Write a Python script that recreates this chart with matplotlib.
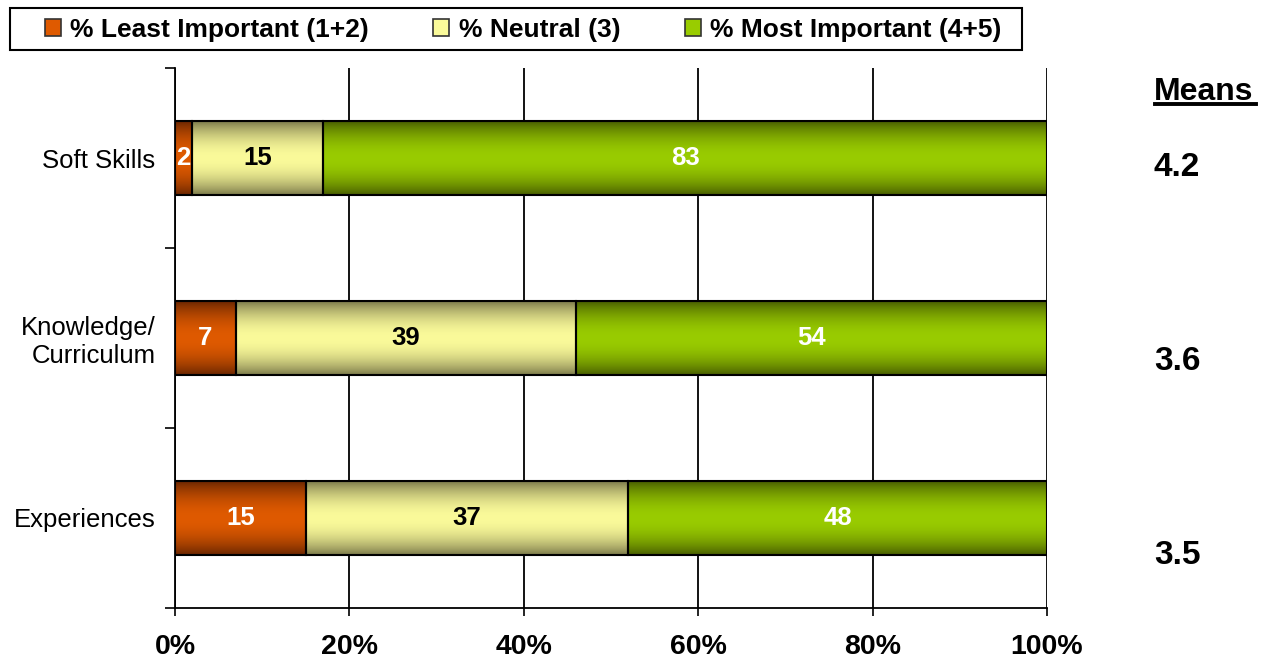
import numpy as np
import matplotlib
matplotlib.use("Agg")
import matplotlib.pyplot as plt
from matplotlib.patches import Patch, Rectangle
from matplotlib.lines import Line2D
from matplotlib.colors import to_rgb

plt.rcParams['font.family'] = ['Liberation Sans', 'DejaVu Sans']

# Survey results (percent of respondents)
categories = ["Experiences", "Knowledge/\nCurriculum", "Soft Skills"]
least_important = [15, 7, 2]
neutral = [37, 39, 15]
most_important = [48, 54, 83]
means = [3.5, 3.6, 4.2]
series_names = ["% Least Important (1+2)", "% Neutral (3)", "% Most Important (4+5)"]
x_ticks = [0, 20, 40, 60, 80, 100]

# bright centre colour / dark edge colour for each series
shades = [("#DF5A00", "#662400"), ("#FAFA9A", "#787648"), ("#99CC00", "#465A00")]
label_colors = ["white", "black", "white"]

W, H = 1266, 661
fig = plt.figure(figsize=(W / 100, H / 100), dpi=100)
ax = fig.add_axes([175 / W, 53 / H, 872 / W, 540 / H])

y = np.arange(len(categories))
bar_h = 0.41


def gradient_image(center, edge, n=128):
    t = np.linspace(-1, 1, n)
    w = np.cos(t * np.pi / 2) ** 0.8
    c0, c1 = np.array(to_rgb(edge)), np.array(to_rgb(center))
    return (c0[None, :] + (c1 - c0)[None, :] * w[:, None])[:, None, :]


left = np.zeros(len(categories))
for vals, (bright, dark), lc in zip([least_important, neutral, most_important], shades, label_colors):
    bars = ax.barh(y, vals, left=left, height=bar_h, facecolor="none",
                   edgecolor="black", linewidth=1.5, zorder=4)
    for b, v in zip(bars, vals):
        x0, y0, w, h = b.get_x(), b.get_y(), b.get_width(), b.get_height()
        ax.imshow(gradient_image(bright, dark), extent=[x0, x0 + w, y0, y0 + h],
                  aspect="auto", interpolation="bilinear", zorder=3)
        ax.text(x0 + w / 2, y0 + h / 2, f"{v}", ha="center", va="center",
                color=lc, fontsize=18.5, fontweight="bold", zorder=5)
    left = left + np.array(vals)

ax.set_xlim(0, 100)
ax.set_ylim(-0.5, len(categories) - 0.5)

# x axis
ax.set_xticks(x_ticks)
ax.set_xticklabels([f"{t}%" for t in x_ticks], fontsize=20.5, fontweight="bold")
ax.tick_params(axis="x", length=6, width=1.2, pad=13, direction="out")
ax.xaxis.grid(True, color="black", linewidth=1.3, zorder=1)
ax.set_axisbelow(True)

# y axis: boundary ticks, category labels in between
ax.set_yticks(np.arange(-0.5, len(categories), 1.0))
ax.set_yticklabels([])
ax.set_yticks(y, minor=True)
ax.set_yticklabels(categories, minor=True, fontsize=18.5)
ax.tick_params(axis="y", which="major", length=7, width=1.2)
ax.tick_params(axis="y", which="minor", length=0, pad=14)

for s in ["top", "right"]:
    ax.spines[s].set_visible(False)
ax.spines["left"].set_linewidth(1.3)
ax.spines["bottom"].set_linewidth(1.3)

# means column
fig.text(1154 / W, 1 - 92 / H, "Means", fontsize=23, fontweight="bold",
         ha="left", va="center")
fig.add_artist(Line2D([1155 / W, 1256 / W], [1 - 104 / H, 1 - 104 / H],
                      color="black", linewidth=2.8))
mean_rows_px = [555, 362, 167]
for m, py in zip(means, mean_rows_px):
    fig.text(1154 / W, 1 - py / H, f"{m:.1f}", fontsize=24, fontweight="bold",
             ha="left", va="center")

# legend with a separate frame box
fig.add_artist(Rectangle((10 / W, 1 - 50 / H), 1012 / W, 42 / H, transform=fig.transFigure,
                         facecolor="white", edgecolor="black", linewidth=1.5))
handles = [Patch(facecolor=bright, edgecolor="#333333", linewidth=1.2)
           for bright, _ in shades]
leg = fig.legend(handles, series_names, loc="center left",
                 bbox_to_anchor=(45 / W, 1 - 30 / H), ncol=3, frameon=False,
                 prop={"size": 19, "weight": "bold"},
                 handlelength=0.6, handleheight=0.6, handletextpad=0.35,
                 columnspacing=2.45, borderpad=0, borderaxespad=0)
leg.set_zorder(5)

fig.savefig("out.png", dpi=100)
